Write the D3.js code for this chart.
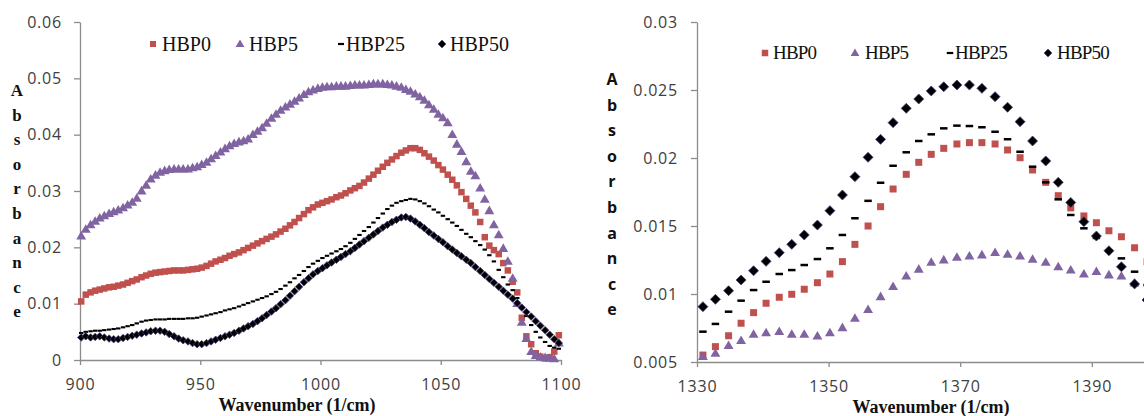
<!DOCTYPE html>
<html>
<head>
<meta charset="utf-8">
<script src="https://cdn.jsdelivr.net/npm/d3@7"></script>
<style>
  body { margin: 0; background: #fff; }
  svg { display: block; }
</style>
</head>
<body>
<div id="grafico"></div>
<script>
// ---- datos panel izquierdo (900-1100 1/cm) ----
const wnIzq = [900.5,902.4,904.4,906.3,908.2,910.1,912.1,914.0,915.9,917.9,
  919.8,921.7,923.6,925.6,927.5,929.4,931.4,933.3,935.2,937.1,
  939.1,941.0,942.9,944.9,946.8,948.7,950.6,952.6,954.5,956.4,
  958.4,960.3,962.2,964.1,966.1,968.0,969.9,971.9,973.8,975.7,
  977.6,979.6,981.5,983.4,985.4,987.3,989.2,991.1,993.1,995.0,
  996.9,998.9,1000.8,1002.7,1004.6,1006.6,1008.5,1010.4,1012.4,1014.3,
  1016.2,1018.1,1020.1,1022.0,1023.9,1025.9,1027.8,1029.7,1031.6,1033.6,
  1035.5,1037.4,1039.4,1041.3,1043.2,1045.1,1047.1,1049.0,1050.9,1052.9,
  1054.8,1056.7,1058.6,1060.6,1062.5,1064.4,1066.4,1068.3,1070.2,1072.1,
  1074.1,1076.0,1077.9,1079.9,1081.8,1083.7,1085.6,1087.6,1089.5,1091.4,
  1093.4,1095.3,1097.2,1099.1];

const hbp0Izq = [0.0104,0.0116,0.0120,0.0123,0.0125,0.0127,0.0129,0.0130,0.0132,0.0134,
  0.0137,0.0140,0.0143,0.0147,0.0150,0.0153,0.0155,0.0156,0.0157,0.0158,
  0.0159,0.0159,0.0159,0.0160,0.0161,0.0162,0.0164,0.0167,0.0171,0.0175,
  0.0178,0.0181,0.0185,0.0188,0.0191,0.0195,0.0199,0.0203,0.0207,0.0211,
  0.0215,0.0219,0.0223,0.0228,0.0233,0.0239,0.0245,0.0252,0.0259,0.0266,
  0.0271,0.0276,0.0279,0.0282,0.0285,0.0289,0.0292,0.0296,0.0301,0.0305,
  0.0309,0.0315,0.0322,0.0329,0.0336,0.0343,0.0350,0.0356,0.0362,0.0368,
  0.0372,0.0376,0.0376,0.0373,0.0367,0.0361,0.0354,0.0346,0.0338,0.0329,
  0.0320,0.0310,0.0298,0.0286,0.0274,0.0262,0.0245,0.0218,0.0203,0.0195,
  0.0188,0.0172,0.0159,0.0139,0.0120,0.0075,0.0042,0.0028,0.0012,0.0006,
  0.0003,0.0005,0.0015,0.0044];

const hbp5Izq = [0.0220,0.0232,0.0240,0.0246,0.0252,0.0256,0.0260,0.0263,0.0266,0.0270,
  0.0275,0.0280,0.0287,0.0300,0.0310,0.0321,0.0328,0.0333,0.0336,0.0338,
  0.0339,0.0339,0.0339,0.0339,0.0341,0.0343,0.0347,0.0351,0.0357,0.0363,
  0.0369,0.0375,0.0380,0.0384,0.0387,0.0389,0.0392,0.0400,0.0406,0.0412,
  0.0420,0.0429,0.0436,0.0443,0.0449,0.0454,0.0459,0.0465,0.0471,0.0476,
  0.0479,0.0482,0.0484,0.0485,0.0485,0.0486,0.0486,0.0486,0.0487,0.0488,
  0.0488,0.0488,0.0489,0.0490,0.0490,0.0490,0.0489,0.0488,0.0486,0.0484,
  0.0480,0.0477,0.0472,0.0467,0.0461,0.0453,0.0445,0.0436,0.0430,0.0421,
  0.0400,0.0383,0.0370,0.0352,0.0335,0.0327,0.0305,0.0285,0.0265,0.0240,
  0.0222,0.0198,0.0175,0.0145,0.0100,0.0067,0.0038,0.0015,0.0008,0.0005,
  0.0004,0.0003,0.0002,0.0030];

const hbp25Izq = [0.0048,0.0050,0.0051,0.0052,0.0052,0.0053,0.0054,0.0055,0.0056,0.0058,
  0.0060,0.0062,0.0065,0.0068,0.0070,0.0071,0.0072,0.0072,0.0072,0.0073,
  0.0073,0.0073,0.0073,0.0074,0.0074,0.0075,0.0077,0.0079,0.0081,0.0083,
  0.0085,0.0088,0.0090,0.0092,0.0095,0.0098,0.0101,0.0104,0.0107,0.0110,
  0.0113,0.0117,0.0121,0.0126,0.0132,0.0138,0.0145,0.0151,0.0158,0.0165,
  0.0171,0.0176,0.0181,0.0185,0.0189,0.0193,0.0197,0.0202,0.0208,0.0215,
  0.0222,0.0229,0.0236,0.0244,0.0252,0.0260,0.0268,0.0274,0.0279,0.0282,
  0.0284,0.0286,0.0285,0.0282,0.0278,0.0273,0.0267,0.0262,0.0256,0.0250,
  0.0244,0.0238,0.0231,0.0224,0.0218,0.0211,0.0204,0.0196,0.0186,0.0175,
  0.0160,0.0147,0.0134,0.0124,0.0110,0.0092,0.0078,0.0062,0.0050,0.0040,
  0.0032,0.0025,0.0022,0.0020];

const hbp50Izq = [0.0040,0.0042,0.0040,0.0041,0.0042,0.0040,0.0038,0.0037,0.0037,0.0039,
  0.0041,0.0043,0.0045,0.0047,0.0049,0.0051,0.0052,0.0052,0.0050,0.0046,
  0.0042,0.0038,0.0035,0.0033,0.0030,0.0028,0.0028,0.0030,0.0033,0.0036,
  0.0039,0.0042,0.0045,0.0048,0.0052,0.0056,0.0060,0.0064,0.0069,0.0074,
  0.0080,0.0086,0.0092,0.0099,0.0106,0.0114,0.0122,0.0130,0.0138,0.0145,
  0.0152,0.0158,0.0163,0.0168,0.0173,0.0178,0.0183,0.0188,0.0193,0.0199,
  0.0205,0.0211,0.0217,0.0223,0.0229,0.0235,0.0240,0.0245,0.0249,0.0253,
  0.0254,0.0251,0.0246,0.0240,0.0234,0.0227,0.0221,0.0215,0.0209,0.0202,
  0.0196,0.0190,0.0184,0.0178,0.0172,0.0165,0.0158,0.0151,0.0144,0.0137,
  0.0130,0.0123,0.0116,0.0109,0.0101,0.0093,0.0085,0.0077,0.0069,0.0061,
  0.0053,0.0045,0.0037,0.0030];

// ---- datos panel derecho (1330-1400 1/cm) ----
const wnDer = [1330.9,1332.8,1334.8,1336.7,1338.6,1340.5,1342.5,1344.4,1346.3,1348.3,
  1350.2,1352.1,1354.0,1356.0,1357.9,1359.8,1361.8,1363.7,1365.6,1367.5,
  1369.5,1371.4,1373.3,1375.3,1377.2,1379.1,1381.0,1383.0,1384.9,1386.8,
  1388.8,1390.7,1392.6,1394.5,1396.5,1398.4];

const hbp0Der = [0.00551,0.00613,0.00693,0.00785,0.00863,0.00932,0.00976,0.00998,0.01035,0.01083,
  0.01147,0.01238,0.01365,0.01500,0.01642,0.01772,0.01880,0.01968,0.02027,0.02071,
  0.02103,0.02113,0.02113,0.02103,0.02059,0.02002,0.01912,0.01821,0.01723,0.01633,
  0.01574,0.01524,0.01465,0.01421,0.01340,0.01238];

const hbp5Der = [0.00539,0.00564,0.00620,0.00657,0.00704,0.00715,0.00723,0.00704,0.00704,0.00691,
  0.00715,0.00752,0.00821,0.00885,0.00980,0.01054,0.01132,0.01182,0.01233,0.01250,
  0.01270,0.01279,0.01287,0.01304,0.01292,0.01279,0.01255,0.01233,0.01200,0.01176,
  0.01147,0.01164,0.01140,0.01132,0.01080,0.00980];

const hbp25Der = [0.00723,0.00780,0.00870,0.00951,0.01029,0.01090,0.01147,0.01176,0.01213,0.01257,
  0.01336,0.01434,0.01557,0.01685,0.01818,0.01943,0.02042,0.02125,0.02174,0.02218,
  0.02238,0.02235,0.02226,0.02193,0.02138,0.02046,0.01936,0.01821,0.01696,0.01581,
  0.01483,0.01412,0.01318,0.01262,0.01164,0.01066];

const hbp50Der = [0.00907,0.00961,0.01024,0.01103,0.01171,0.01240,0.01304,0.01365,0.01434,0.01507,
  0.01613,0.01728,0.01863,0.02005,0.02137,0.02260,0.02365,0.02434,0.02493,0.02524,
  0.02537,0.02537,0.02512,0.02451,0.02373,0.02267,0.02125,0.01978,0.01821,0.01673,
  0.01532,0.01426,0.01318,0.01200,0.01074,0.00956];

// ---- ejes ----
const ticksXIzq = [900, 950, 1000, 1050, 1100];
const ticksYIzq = [0, 0.01, 0.02, 0.03, 0.04, 0.05, 0.06];
const etiquetasYIzq = ['0', '0.01', '0.02', '0.03', '0.04', '0.05', '0.06'];
const ticksXDer = [1330, 1350, 1370, 1390];
const ticksYDer = [0.005, 0.01, 0.015, 0.02, 0.025, 0.03];
const etiquetasYDer = ['0.005', '0.01', '0.015', '0.02', '0.025', '0.03'];
const nombres = ['HBP0', 'HBP5', 'HBP25', 'HBP50'];
const tituloY = 'Absorbance'.split('');

const ROJO = '#c0504d';
const MORADO = '#8064a2';

function forma(tipo, s, grosor) {
  if (tipo === 'cuadrado') return `M${-s/2},${-s/2}h${s}v${s}h${-s}Z`;
  if (tipo === 'triangulo') {
    const w = s * 1.1, h = s * 0.95;
    return `M0,${-h*0.6}L${w/2},${h*0.4}L${-w/2},${h*0.4}Z`;
  }
  if (tipo === 'rombo') return `M0,${-s/2}L${s/2},0L0,${s/2}L${-s/2},0Z`;
  // guion
  const g = grosor || 2.2;
  return `M${-s/2},${-g/2}h${s}v${g}h${-s}Z`;
}

const estilos = [
  { tipo: 'cuadrado', fill: ROJO, stroke: 'none' },
  { tipo: 'triangulo', fill: MORADO, stroke: 'none' },
  { tipo: 'guion', fill: '#000', stroke: 'none' },
  { tipo: 'rombo', fill: '#000', stroke: '#4a4080' }
];

const svg = d3.select('#grafico')
  .append('svg')
  .attr('width', 1144)
  .attr('height', 416);

function panel(cfg) {
  const g = svg.append('g');
  const x = d3.scaleLinear().domain(cfg.xDom).range(cfg.xRange);
  const y = d3.scaleLinear().domain(cfg.yDom).range(cfg.yRange);

  const ejeY = g.append('g')
    .attr('transform', `translate(${cfg.xRange[0]},0)`)
    .call(d3.axisLeft(y).tickValues(cfg.ticksY)
      .tickFormat((d, i) => cfg.etiquetasY[i])
      .tickSizeInner(6).tickSizeOuter(0).tickPadding(cfg.padY));

  const ejeX = g.append('g')
    .attr('transform', `translate(0,${cfg.yRange[0]})`)
    .call(d3.axisBottom(x).tickValues(cfg.ticksX)
      .tickFormat(d3.format('d'))
      .tickSizeInner(5).tickSizeOuter(0).tickPadding(14));

  [ejeY, ejeX].forEach(e => {
    e.select('.domain').attr('stroke', '#8c8c8c').attr('stroke-width', 1.3);
    e.selectAll('.tick line').attr('stroke', '#8c8c8c').attr('stroke-width', 1.3);
    e.selectAll('.tick text')
      .attr('fill', '#404040')
      .style('font-family', '"Open Sans", sans-serif')
      .style('font-size', '16px')
      .style('letter-spacing', '0.8px');
  });

  // series
  cfg.series.forEach((vals, k) => {
    const est = estilos[k];
    g.append('g')
      .selectAll('path')
      .data(vals.map((v, i) => [cfg.wn[i], v]))
      .join('path')
      .attr('transform', d => `translate(${x(d[0])},${y(d[1])})`)
      .attr('d', forma(est.tipo, cfg.tam[k], cfg.grosor))
      .attr('fill', est.fill)
      .attr('stroke', est.stroke)
      .attr('stroke-width', est.stroke === 'none' ? 0 : 0.8);
  });

  // leyenda
  const ley = g.append('g');
  cfg.leyenda.forEach((p, k) => {
    const est = estilos[k];
    ley.append('path')
      .attr('transform', `translate(${p.m},${cfg.leyY})`)
      .attr('d', forma(est.tipo, cfg.tamLey[k], 2.2))
      .attr('fill', est.fill)
      .attr('stroke', est.stroke)
      .attr('stroke-width', est.stroke === 'none' ? 0 : 0.6);
    ley.append('text')
      .attr('x', p.t)
      .attr('y', cfg.leyY + cfg.leyFont * 0.34)
      .text(nombres[k])
      .style('font-family', '"Liberation Serif", "Times New Roman", serif')
      .style('font-size', cfg.leyFont + 'px')
      .style('letter-spacing', cfg.leyEsp + 'px')
      .attr('fill', '#111');
  });

  // titulo eje x
  g.append('text')
    .attr('x', cfg.tituloX[0])
    .attr('y', cfg.tituloX[1])
    .attr('text-anchor', 'middle')
    .text('Wavenumber (1/cm)')
    .style('font-family', '"Liberation Serif", "Times New Roman", serif')
    .style('font-weight', 'bold')
    .style('font-size', '18px')
    .attr('fill', '#111');

  // titulo eje y, letras apiladas
  g.append('g')
    .selectAll('text')
    .data(tituloY)
    .join('text')
    .attr('x', cfg.tituloY.x)
    .attr('y', (d, i) => cfg.tituloY.y0 + i * cfg.tituloY.paso)
    .attr('text-anchor', 'middle')
    .text(d => d)
    .style('font-family', cfg.tituloY.fuente)
    .style('font-weight', 'bold')
    .style('font-size', cfg.tituloY.tam + 'px')
    .attr('fill', '#111');
}

panel({
  wn: wnIzq,
  series: [hbp0Izq, hbp5Izq, hbp25Izq, hbp50Izq],
  xDom: [900, 1100], xRange: [80, 561],
  yDom: [0, 0.06], yRange: [360, 22],
  ticksX: ticksXIzq, ticksY: ticksYIzq, etiquetasY: etiquetasYIzq,
  padY: 12,
  tam: [6.5, 9, 4.4, 7.5],
  grosor: 2.1,
  tamLey: [6, 8, 6, 8],
  leyY: 44, leyFont: 20, leyEsp: 0,
  leyenda: [{ m: 153, t: 162 }, { m: 240, t: 249 }, { m: 341, t: 346 }, { m: 442, t: 450 }],
  tituloX: [297, 411],
  tituloY: { x: 17, y0: 96, paso: 24.6, tam: 17, fuente: '"Liberation Serif", "Times New Roman", serif' }
});

panel({
  wn: wnDer,
  series: [hbp0Der, hbp5Der, hbp25Der, hbp50Der],
  xDom: [1330, 1410], xRange: [697, 697 + 80 * 6.58],
  yDom: [0.005, 0.03], yRange: [362, 22],
  ticksX: ticksXDer, ticksY: ticksYDer, etiquetasY: etiquetasYDer,
  padY: 13,
  tam: [7, 9, 7.5, 10],
  grosor: 2.5,
  tamLey: [6.5, 8, 6.5, 8],
  leyY: 53, leyFont: 19, leyEsp: -0.8,
  leyenda: [{ m: 765, t: 773 }, { m: 855, t: 865 }, { m: 950, t: 955 }, { m: 1048, t: 1057 }],
  tituloX: [931, 413],
  tituloY: { x: 612, y0: 85, paso: 25.6, tam: 16, fuente: '"Open Sans", sans-serif' }
});
</script>
</body>
</html>
